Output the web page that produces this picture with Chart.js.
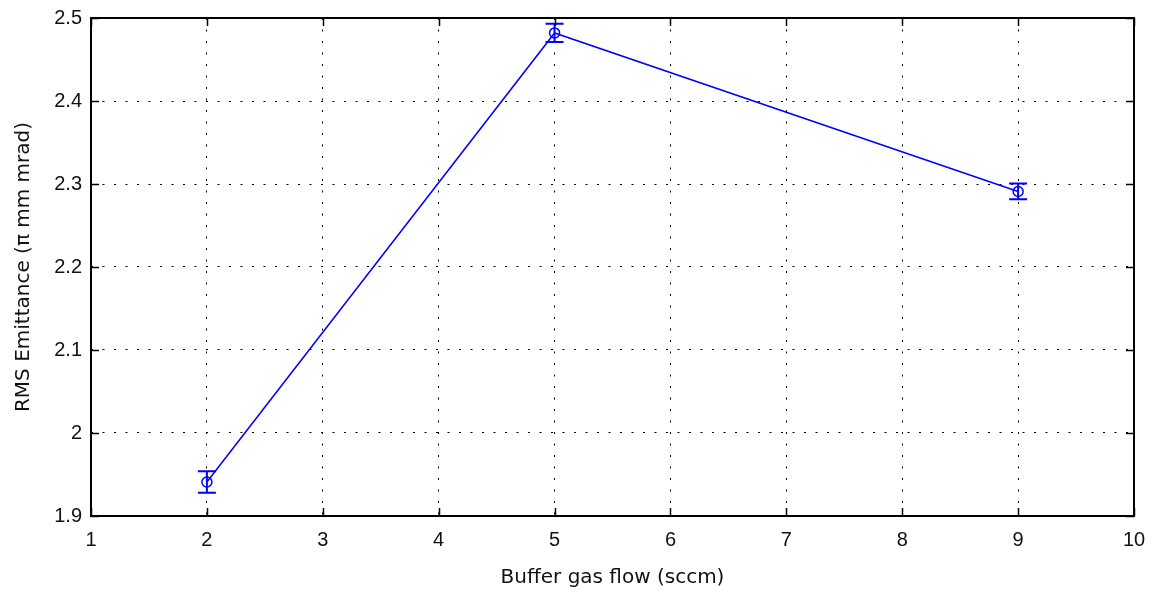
<!DOCTYPE html>
<html>
<head>
<meta charset="utf-8">
<script src="https://cdn.jsdelivr.net/npm/chart.js@4"></script>
<style>
html,body{margin:0;padding:0;background:#fff;}
#wrap{width:1153px;height:595px;position:relative;}
</style>
</head>
<body>
<div id="wrap"><canvas id="c" width="1153" height="595"></canvas></div>
<script>
const flowX = [2, 5, 9];
const emittance = [1.941, 2.482, 2.291];
const emittanceErr = [0.013, 0.011, 0.0095];
const xTicks = [1, 2, 3, 4, 5, 6, 7, 8, 9, 10];
const yTicks = [1.9, 2.0, 2.1, 2.2, 2.3, 2.4, 2.5];
const xTitle = 'Buffer gas flow (sccm)';
const yTitle = 'RMS Emittance (\u03c0 mm mrad)';

const BLUE = '#0000ff';
const FONT = 'Liberation Sans, Arial, sans-serif';
const TFONT = 'DejaVu Sans, sans-serif';

const boxPlugin = {
  id: 'box',
  beforeDraw(chart) {
    const ctx = chart.ctx;
    ctx.save();
    ctx.fillStyle = '#fff';
    ctx.fillRect(0, 0, chart.width, chart.height);
    ctx.restore();
  },
  afterDraw(chart) {
    const {ctx, chartArea: a, scales} = chart;
    ctx.save();
    ctx.strokeStyle = '#000';
    ctx.lineWidth = 2;
    ctx.strokeRect(a.left, a.top, a.right - a.left, a.bottom - a.top);
    ctx.lineWidth = 1.5;
    const tl = 8;
    ctx.beginPath();
    xTicks.forEach(v => {
      const px = Math.round(scales.x.getPixelForValue(v)) + 0.5;
      ctx.moveTo(px, a.bottom); ctx.lineTo(px, a.bottom - tl);
      ctx.moveTo(px, a.top); ctx.lineTo(px, a.top + tl);
    });
    yTicks.forEach(v => {
      const py = Math.round(scales.y.getPixelForValue(v)) + 0.5;
      ctx.moveTo(a.left, py); ctx.lineTo(a.left + tl, py);
      ctx.moveTo(a.right, py); ctx.lineTo(a.right - tl, py);
    });
    ctx.stroke();
    ctx.restore();
  },
  afterDatasetsDraw(chart) {
    const {ctx, scales} = chart;
    ctx.save();
    ctx.strokeStyle = BLUE;
    ctx.lineWidth = 2;
    const cap = 9;
    flowX.forEach((xv, i) => {
      const px = scales.x.getPixelForValue(xv);
      const top = scales.y.getPixelForValue(emittance[i] + emittanceErr[i]);
      const bot = scales.y.getPixelForValue(emittance[i] - emittanceErr[i]);
      ctx.beginPath();
      ctx.moveTo(px, top); ctx.lineTo(px, bot);
      ctx.moveTo(px - cap, top); ctx.lineTo(px + cap, top);
      ctx.moveTo(px - cap, bot); ctx.lineTo(px + cap, bot);
      ctx.stroke();
    });
    ctx.restore();
  }
};

new Chart(document.getElementById('c'), {
  type: 'line',
  data: {
    datasets: [{
      data: flowX.map((x, i) => ({x, y: emittance[i]})),
      borderColor: BLUE,
      borderWidth: 1.5,
      backgroundColor: 'rgba(0,0,0,0)',
      pointStyle: 'circle',
      pointRadius: 5,
      pointBorderWidth: 1.5,
      pointBorderColor: BLUE,
      pointBackgroundColor: 'rgba(0,0,0,0)',
      tension: 0
    }]
  },
  options: {
    responsive: false,
    animation: false,
    layout: {padding: {top: 18, right: 19, left: 0, bottom: 0}},
    plugins: {legend: {display: false}, tooltip: {enabled: false}},
    scales: {
      x: {
        type: 'linear', min: 1, max: 10,
        afterBuildTicks(s) { s.ticks = xTicks.map(v => ({value: v})); },
        afterFit(s) { s.height = 79; s.paddingLeft = 0; s.paddingRight = 0; },
        border: {display: false, dash: [2, 9.5]},
        grid: {color: '#000', lineWidth: 1, drawTicks: false},
        ticks: {color: '#111', font: {family: FONT, size: 20}, padding: 12,
          callback: v => String(v)},
        title: {display: true, text: xTitle, color: '#111', font: {family: TFONT, size: 20}, padding: {top: 0, bottom: 5}}
      },
      y: {
        type: 'linear', min: 1.9, max: 2.5,
        afterBuildTicks(s) { s.ticks = yTicks.map(v => ({value: v})); },
        afterFit(s) { s.width = 91; s.paddingTop = 0; s.paddingBottom = 0; },
        border: {display: false, dash: [2, 9.5]},
        grid: {color: '#000', lineWidth: 1, drawTicks: false},
        ticks: {color: '#111', font: {family: FONT, size: 20}, padding: 9,
          callback: v => String(Number(v.toFixed(1)))},
        title: {display: true, text: yTitle, color: '#111', font: {family: TFONT, size: 20}, padding: {top: 12, bottom: 0}}
      }
    }
  },
  plugins: [boxPlugin]
});
</script>
</body>
</html>
